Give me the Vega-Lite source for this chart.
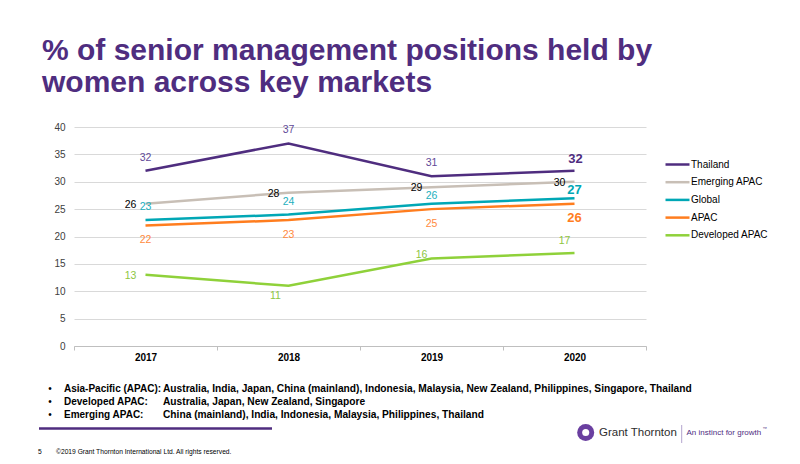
{
  "$schema": "https://vega.github.io/schema/vega-lite/v6.json",
  "width": 572,
  "height": 219,
  "autosize": "none",
  "padding": {"left": 74, "top": 127, "right": 154, "bottom": 118},
  "background": "white",
  "config": {"font": "Liberation Sans", "view": {"stroke": null}},
  "title": {
    "text": ["% of senior management positions held by", "women across key markets"],
    "font": "Liberation Sans",
    "fontSize": 30,
    "fontWeight": "bold",
    "color": "#4F2D7F",
    "anchor": "start",
    "frame": "group",
    "dx": -32,
    "dy": 35,
    "offset": 29,
    "baseline": "bottom",
    "lineHeight": 32.5
  },
  "datasets": {
    "series": [
      {"year": "2017", "series": "Thailand", "value": 32},
      {"year": "2018", "series": "Thailand", "value": 37},
      {"year": "2019", "series": "Thailand", "value": 31},
      {"year": "2020", "series": "Thailand", "value": 32},
      {"year": "2017", "series": "Emerging APAC", "value": 26},
      {"year": "2018", "series": "Emerging APAC", "value": 28},
      {"year": "2019", "series": "Emerging APAC", "value": 29},
      {"year": "2020", "series": "Emerging APAC", "value": 30},
      {"year": "2017", "series": "Global", "value": 23},
      {"year": "2018", "series": "Global", "value": 24},
      {"year": "2019", "series": "Global", "value": 26},
      {"year": "2020", "series": "Global", "value": 27},
      {"year": "2017", "series": "APAC", "value": 22},
      {"year": "2018", "series": "APAC", "value": 23},
      {"year": "2019", "series": "APAC", "value": 25},
      {"year": "2020", "series": "APAC", "value": 26},
      {"year": "2017", "series": "Developed APAC", "value": 13},
      {"year": "2018", "series": "Developed APAC", "value": 11},
      {"year": "2019", "series": "Developed APAC", "value": 16},
      {"year": "2020", "series": "Developed APAC", "value": 17}
    ],
    "footer": [
      {"row": 1, "term": "Asia-Pacific (APAC):", "countries": "Australia, India, Japan, China (mainland), Indonesia, Malaysia, New Zealand, Philippines, Singapore, Thailand"},
      {"row": 2, "term": "Developed APAC:", "countries": "Australia, Japan, New Zealand, Singapore"},
      {"row": 3, "term": "Emerging APAC:", "countries": "China (mainland), India, Indonesia, Malaysia, Philippines, Thailand"}
    ],
    "decor": [
      {"page": "5", "copyright": "©2019 Grant Thornton International Ltd. All rights reserved.", "brand": "Grant Thornton", "tagline": "An instinct for growth", "tm": "™"}
    ]
  },
  "layer": [
    {
      "data": {"name": "series"},
      "encoding": {
        "x": {
          "field": "year", "type": "ordinal",
          "scale": {"type": "band", "paddingInner": 0, "paddingOuter": 0},
          "axis": {
            "title": null, "labelAngle": 0, "labelFontSize": 10, "labelFontWeight": "bold",
            "labelColor": "#000000", "domainColor": "#BFBFBF", "tickColor": "#BFBFBF",
            "tickBand": "extent", "tickSize": 4, "labelPadding": 2, "grid": false
          }
        },
        "y": {
          "field": "value", "type": "quantitative",
          "scale": {"domain": [0, 40], "nice": false},
          "axis": {
            "title": null, "values": [0, 5, 10, 15, 20, 25, 30, 35, 40], "domain": false, "ticks": false,
            "labelPadding": 9, "labelFontSize": 10, "labelColor": "#404040",
            "grid": true, "gridColor": "#D9D9D9", "gridWidth": 1
          }
        }
      },
      "layer": [
        {
          "mark": {"type": "line", "strokeWidth": 2.5},
          "encoding": {
            "color": {
              "field": "series", "type": "nominal",
              "scale": {
                "domain": ["Thailand", "Emerging APAC", "Global", "APAC", "Developed APAC"],
                "range": ["#4F2D7F", "#C8BFB6", "#00A7B5", "#FF7D1E", "#8FD13A"]
              },
              "legend": {
                "orient": "none", "legendX": 596, "legendY": 30, "title": null,
                "symbolType": "M-2,0H2", "symbolSize": 144, "symbolStrokeWidth": 2.5,
                "labelFontSize": 10, "labelColor": "#000000", "labelOffset": 6,
                "rowPadding": 4.7, "padding": 0
              }
            }
          }
        },
        {
          "transform": [{"filter": "datum.series == 'Thailand' && datum.year != '2020'"}],
          "mark": {"type": "text", "fontSize": 10.5, "color": "#5F4A98", "dy": -13, "baseline": "middle"},
          "encoding": {"text": {"field": "value"}}
        },
        {
          "transform": [{"filter": "datum.series == 'Thailand' && datum.year == '2020'"}],
          "mark": {"type": "text", "fontSize": 13, "fontWeight": "bold", "color": "#4F2D7F", "dy": -12, "dx": 1, "baseline": "middle"},
          "encoding": {"text": {"field": "value"}}
        },
        {
          "transform": [{"filter": "datum.series == 'Emerging APAC'"}],
          "mark": {"type": "text", "fontSize": 10.5, "color": "#000000", "dx": -15, "dy": 1, "baseline": "middle"},
          "encoding": {"text": {"field": "value"}}
        },
        {
          "transform": [{"filter": "datum.series == 'Global' && (datum.year == '2017' || datum.year == '2018')"}],
          "mark": {"type": "text", "fontSize": 10.5, "color": "#1CAFBD", "dy": -13, "baseline": "middle"},
          "encoding": {"text": {"field": "value"}}
        },
        {
          "transform": [{"filter": "datum.series == 'Global' && datum.year == '2019'"}],
          "mark": {"type": "text", "fontSize": 10.5, "color": "#1CAFBD", "dy": -7.5, "baseline": "middle"},
          "encoding": {"text": {"field": "value"}}
        },
        {
          "transform": [{"filter": "datum.series == 'Global' && datum.year == '2020'"}],
          "mark": {"type": "text", "fontSize": 13, "fontWeight": "bold", "color": "#00A7B5", "dy": -8.5, "baseline": "middle"},
          "encoding": {"text": {"field": "value"}}
        },
        {
          "transform": [{"filter": "datum.series == 'APAC' && datum.year != '2020'"}],
          "mark": {"type": "text", "fontSize": 10.5, "color": "#FF8A3D", "dy": 14.5, "baseline": "middle"},
          "encoding": {"text": {"field": "value"}}
        },
        {
          "transform": [{"filter": "datum.series == 'APAC' && datum.year == '2020'"}],
          "mark": {"type": "text", "fontSize": 13, "fontWeight": "bold", "color": "#FF7D1E", "dy": 14, "baseline": "middle"},
          "encoding": {"text": {"field": "value"}}
        },
        {
          "transform": [{"filter": "datum.series == 'Developed APAC' && datum.year == '2017'"}],
          "mark": {"type": "text", "fontSize": 10.5, "color": "#8DC63F", "dx": -15, "dy": 1, "baseline": "middle"},
          "encoding": {"text": {"field": "value"}}
        },
        {
          "transform": [{"filter": "datum.series == 'Developed APAC' && datum.year == '2018'"}],
          "mark": {"type": "text", "fontSize": 10.5, "color": "#8DC63F", "dx": -13, "dy": 10.5, "baseline": "middle"},
          "encoding": {"text": {"field": "value"}}
        },
        {
          "transform": [{"filter": "datum.series == 'Developed APAC' && datum.year == '2019'"}],
          "mark": {"type": "text", "fontSize": 10.5, "color": "#8DC63F", "dx": -10, "dy": -3, "baseline": "middle"},
          "encoding": {"text": {"field": "value"}}
        },
        {
          "transform": [{"filter": "datum.series == 'Developed APAC' && datum.year == '2020'"}],
          "mark": {"type": "text", "fontSize": 10.5, "color": "#8DC63F", "dx": -10, "dy": -11.5, "baseline": "middle"},
          "encoding": {"text": {"field": "value"}}
        }
      ]
    },
    {
      "data": {"name": "footer"},
      "encoding": {
        "y": {"field": "row", "type": "quantitative", "scale": {"domain": [1, 3], "range": [262, 288], "nice": false, "zero": false}, "axis": null}
      },
      "layer": [
        {
          "mark": {"type": "text", "text": "•", "fontSize": 10, "align": "center", "baseline": "middle", "color": "#000000"},
          "encoding": {"x": {"datum": 50, "type": "quantitative", "scale": {"domain": [0, 800], "range": [-74, 726], "nice": false, "zero": false}, "axis": null}}
        },
        {
          "mark": {"type": "text", "fontSize": 10, "fontWeight": "bold", "align": "left", "baseline": "middle", "color": "#000000"},
          "encoding": {"x": {"datum": 64}, "text": {"field": "term"}}
        },
        {
          "mark": {"type": "text", "fontSize": 10.2, "fontWeight": "bold", "align": "left", "baseline": "middle", "color": "#000000"},
          "encoding": {"x": {"datum": 163}, "text": {"field": "countries"}}
        }
      ]
    },
    {
      "data": {"name": "decor"},
      "layer": [
        {
          "mark": {"type": "rule", "color": "#4F2D7F", "strokeWidth": 2.5},
          "encoding": {
            "x": {"datum": 39, "type": "quantitative", "scale": {"domain": [0, 800], "range": [-74, 726], "nice": false, "zero": false}, "axis": null},
            "x2": {"datum": 272},
            "y": {"datum": 428.5, "type": "quantitative", "scale": {"domain": [0, 464], "range": [-127, 337], "nice": false, "zero": false}, "axis": null}
          }
        },
        {
          "mark": {"type": "text", "fontSize": 6.7, "align": "left", "baseline": "middle", "color": "#000000"},
          "encoding": {"x": {"datum": 38}, "y": {"datum": 452}, "text": {"field": "page"}}
        },
        {
          "mark": {"type": "text", "fontSize": 6.7, "align": "left", "baseline": "middle", "color": "#000000"},
          "encoding": {"x": {"datum": 56}, "y": {"datum": 452}, "text": {"field": "copyright"}}
        },
        {
          "mark": {"type": "point", "filled": true, "color": "#6A3FA0", "size": 290, "opacity": 1},
          "encoding": {"x": {"datum": 585.7}, "y": {"datum": 432.5}}
        },
        {
          "mark": {"type": "point", "filled": true, "color": "#FFFFFF", "size": 50, "opacity": 1},
          "encoding": {"x": {"datum": 585.7}, "y": {"datum": 432.5}}
        },
        {
          "mark": {"type": "text", "fontSize": 11.5, "align": "left", "baseline": "middle", "color": "#2D2D2D"},
          "encoding": {"x": {"datum": 599}, "y": {"datum": 432.5}, "text": {"field": "brand"}}
        },
        {
          "mark": {"type": "rule", "color": "#9E8CC0", "strokeWidth": 0.8},
          "encoding": {"x": {"datum": 681.7}, "y": {"datum": 425}, "y2": {"datum": 443}}
        },
        {
          "mark": {"type": "text", "fontSize": 8, "align": "left", "baseline": "middle", "color": "#4F2D7F"},
          "encoding": {"x": {"datum": 686.5}, "y": {"datum": 432.5}, "text": {"field": "tagline"}}
        },
        {
          "mark": {"type": "text", "fontSize": 4.5, "align": "left", "baseline": "middle", "color": "#4F2D7F"},
          "encoding": {"x": {"datum": 762.5}, "y": {"datum": 429}, "text": {"field": "tm"}}
        }
      ]
    }
  ],
  "resolve": {"scale": {"x": "independent", "y": "independent"}, "axis": {"x": "independent", "y": "independent"}}
}
